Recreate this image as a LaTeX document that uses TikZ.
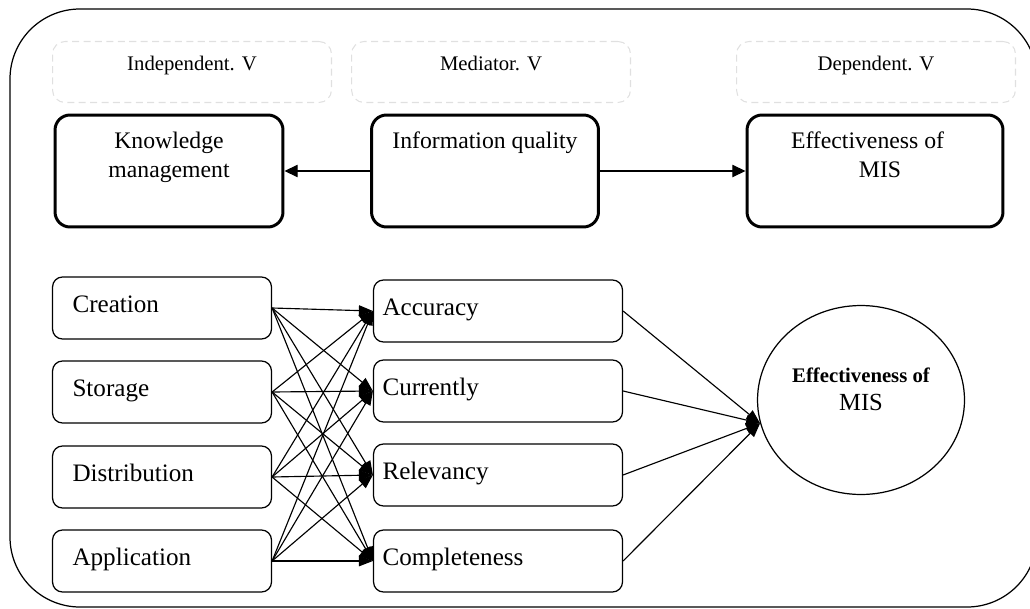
\documentclass[tikz,border=0pt]{standalone}
\usepackage{fontspec}
\setmainfont{Liberation Serif}
\usetikzlibrary{arrows.meta, shapes.geometric, positioning}

\begin{document}
\begin{tikzpicture}[
    x=0.02cm, y=-0.02cm,
    hdr/.style={
        draw=black!12, dashed, dash pattern=on 4pt off 2.5pt,
        line width=0.6pt, rounded corners=0.25cm,
        minimum width=5.58cm, minimum height=1.22cm
    },
    hdrtxt/.style={anchor=north, yshift=-0.18cm, font=\fontsize{11.8}{14}\selectfont},
    big/.style={
        draw, line width=1.7pt, rounded corners=0.3cm,
        minimum height=2.24cm
    },
    bigtxt/.style={anchor=north, yshift=-0.25cm, align=center, font=\fontsize{13.5}{16.5}\selectfont},
    item/.style={
        draw, line width=0.7pt, rounded corners=0.2cm,
        minimum height=1.24cm, align=left,
        text height=1.6ex, text depth=0.4ex,
        font=\fontsize{14.3}{16}\selectfont
    },
    dim/.style={item, text width=3.58cm, inner xsep=0.4cm},
    sub/.style={item, text width=4.62cm, inner xsep=0.18cm},
    arr/.style={-{Triangle[length=7.5pt, width=7pt]}, line width=0.7pt},
    thin/.style={-{Triangle[length=8pt, width=6pt]}, line width=0.65pt},
]
\useasboundingbox (0,0) rectangle (1030,608);

% --- outer frame ---
\draw[line width=0.7pt, rounded corners=1.4cm] (10,9) rectangle (1037,607);

% --- column headers ---
\node[hdr, label={[hdrtxt]north:Independent. V}] (indH) at (192,72) {};
\node[hdr, label={[hdrtxt]north:Mediator. V}] (medH) at (491,72) {};
\node[hdr, label={[hdrtxt]north:Dependent. V}] (depH) at (876,72) {};

% --- main variables ---
\node[big, minimum width=4.56cm, label={[bigtxt]north:Knowledge\\management}] (KM) at (169,171) {};
\node[big, minimum width=4.54cm, label={[bigtxt]north:Information quality}] (IQ) at (485,171) {};
\node[big, minimum width=5.12cm, label={[bigtxt, xshift=-0.15cm]north:Effectiveness of\\\hspace*{0.5cm}MIS}] (EM) at (875,171) {};

\draw[arr] (IQ.west) -- (KM.east);
\draw[arr] (IQ.east) -- (EM.west);

% --- knowledge management dimensions ---
\node[dim] (cre) at (162,308) {Creation};
\node[dim] (sto) at (162,392) {Storage};
\node[dim] (dis) at (162,477) {Distribution};
\node[dim] (app) at (162,561) {Application};

% --- information quality dimensions ---
\node[sub] (acc) at (498,311) {Accuracy};
\node[sub] (cur) at (498,391) {Currently};
\node[sub] (rel) at (498,475) {Relevancy};
\node[sub] (com) at (498,561) {Completeness};

% --- effectiveness of MIS ---
\node[ellipse, draw, line width=0.7pt, minimum width=4.14cm, minimum height=3.78cm,
    label={[yshift=0.22cm, align=center, font=\fontsize{14}{16}\selectfont]center:{\fontsize{11.8}{14}\selectfont\bfseries Effectiveness of}\\MIS}]
    (mis) at (861,400) {};

% --- connections ---
\foreach \a in {cre,sto,dis,app}
    \foreach \b in {acc,cur,rel,com}
        \draw[thin] (\a.east) -- (\b.west);

\foreach \b in {acc,cur,rel,com}
    \draw[thin] (\b.east) -- (mis.193);

\end{tikzpicture}
\end{document}
